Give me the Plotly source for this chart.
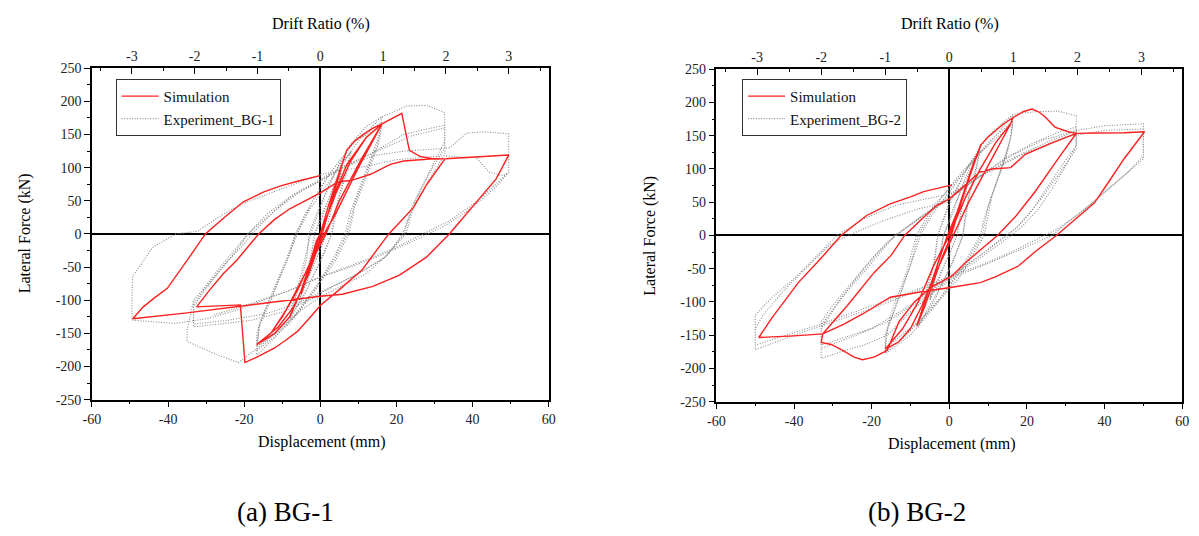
import plotly.graph_objects as go

# ---------------- data (mm, kN) ----------------
sim1_x = [0, 2, 4, 5.5, 4, 1.5, 0.5, -1.5, -3.5, -5, -3.5, -1, 0,
          2, 4.5, 7, 9, 11.5, 14, 16.2, 10, 4, 1, -2, -6, -10, -13, -16.7, -12, -8, -5, -3, 0, 4, 8, 12, 16.2,
          11, 5, 1.5, -4, -9, -13, -16.7, -11, -7, -3, 0, 3, 7, 12, 16.2,
          19, 21.4, 23.4, 26.2, 29.2, 32.7,
          28, 24.5, 18, 11, 5, 0, -3, -6, -9, -12, -16, -19.8, -21, -26, -32.5,
          -29, -25.5, -22, -16.2, -12, -8, -4, 0, 4.5, 8.9, 13.2, 18.4, 21.9, 28.8, 33, 40, 49.5,
          46.2, 41, 37, 33.9, 27.9, 20.8, 13.8, 5.8, 0, -10, -20, -35, -49.3,
          -46.5, -43.5, -40.2, -35, -30.2, -25, -20.2, -15, -10.2, -5, 0]
sim1_y = [0, 40, 75, 100, 70, 20, 0, -30, -65, -90, -60, -10, 0,
          40, 85, 127, 140, 151, 160, 166, 100, 30, 0, -35, -85, -125, -150, -167, -150, -125, -85, -50, 0, 60, 110, 145, 166,
          115, 50, 0, -60, -115, -150, -167, -140, -110, -60, -10, 50, 105, 145, 166,
          175, 182, 126, 117, 114, 113,
          75, 40, 0, -54, -84, -108, -128, -147, -160, -172, -184, -194, -107, -108, -110,
          -84, -60, -40, 0, 22, 38, 50, 62, 78, 82, 90, 105, 110, 113, 113.5, 116, 119,
          83, 48.5, 22, 0, -35, -62, -79, -91, -94, -101, -109, -119, -128,
          -110, -96, -82, -40, 0, 26, 48.5, 63, 73, 81, 88]

exp1_x = [0, 1.5, 3, 4.5, 5.5, 4.5, 3, 2, 1.5, 0, -2, -4, -5.5, -4.5, -3, -2, -1.5, 0, 2, 4, 5.5, 4, 2.5, 1.5, -0.5, -3, -5.5, -4, -2.5, -1.5,
          0.5, 3, 5.5, 8, 7, 5, 3.5, 3, 1, -2, -5, -8, -7, -5, -3.5, -3, -1, 2, 5, 8, 7, 5, 3.5, 3, 0, -4, -8, -7, -5, -3, -2.5,
          0, 4, 8, 12, 16.2, 15.5, 13, 10, 8, 6.5, 4, 0, -5, -10, -14, -16.7, -16.7, -15, -12, -9, -6.5, -4, 0, 5, 10, 16.2,
          15, 12, 9, 7, 4, -1, -7, -12, -16.7, -16, -13, -10, -7, -6, -2, 3, 9, 16.2, 15, 12, 9, 7.5, 4, -2, -8, -16.7, -16, -12, -8, -6.5,
          -3, 0, 5, 10, 16, 22.7, 28, 32.7, 32.7, 32.7, 30, 27, 24, 21.5, 18, 12, 5, 0, -5, -10, -16, -21.5, -28, -35, -35, -33.3,
          -31, -27, -22, -19, -14, -8, 0, 6, 13, 21.9, 27, 32.7, 32.7, 30, 27, 24, 22, 17, 10, 3, -3, -10, -18, -25, -33.3, -33.3,
          -31, -27, -22, -19, -14, -7, 0, 7, 15, 24, 32.7, 32.7, 29, 25, 22.5, 17, 10, 2, -6, -14, -24, -33.3, -33.3, -30, -25, -20, -18,
          -12, -5, 0, 6, 14, 22, 30, 34, 38.4, 42.7, 47.9, 49.5, 49.5, 46, 42, 37, 32, 30, 24, 16, 8, 0, -8, -15, -22, -30, -38, -49.5,
          -49.5, -49.3, -44, -38, -32.3, -26, -20.2, -10.2, 0.3, 12.8, 20, 26, 32.7, 37, 41, 44.4, 47.9, 49.5,
          45, 41, 34, 26.8, 20, 13.8, 5.8, 0, -8, -16, -22, -28]
exp1_y = [0, 25, 50, 75, 92, 70, 40, 15, 0, -25, -50, -80, -98, -75, -45, -20, 0, 25, 50, 80, 95, 62, 30, 0, -30, -65, -100, -70, -35, 0,
          25, 65, 100, 125, 100, 60, 25, 0, -30, -65, -100, -128, -105, -70, -35, 0, 30, 70, 105, 123, 95, 55, 15, 0, -40, -90, -125, -100, -60, -15, 0,
          40, 95, 135, 162, 177, 150, 110, 65, 35, 0, -30, -70, -110, -145, -168, -183, -150, -120, -80, -40, 0, 30, 70, 110, 145, 168,
          135, 90, 45, 0, -35, -80, -125, -155, -176, -140, -100, -55, -15, 0, 50, 95, 140, 162, 130, 85, 40, 0, -40, -90, -135, -170, -135, -85, -30, 0,
          35, 60, 100, 140, 176, 193, 194, 183, 150, 120, 95, 65, 35, 0, -30, -60, -80, -95, -115, -140, -170, -194, -180, -162, -145, -100,
          -85, -55, -20, 0, 25, 55, 80, 100, 120, 150, 157, 164, 140, 110, 75, 40, 0, -35, -60, -80, -100, -118, -130, -135, -140, -110,
          -90, -60, -25, 0, 30, 60, 83, 105, 125, 148, 160, 130, 95, 50, 0, -35, -60, -82, -105, -120, -130, -136, -105, -80, -45, -15, 0,
          35, 65, 80, 100, 118, 125, 128, 130, 152, 154, 152, 151, 93, 70, 50, 28, 10, 5, -12, -32, -50, -65, -85, -100, -115, -128, -135, -130,
          -100, -64, -20, 0, 4, 28, 46, 68, 90, 103, 112, 115, 118, 116, 115, 93, 88, 93,
          70, 48.5, 20, 0, -20, -35, -52, -65, -85, -100, -112, -122]

sim2_x = [0, 2, 4, 6, 8.1, 5, 2, 0.5, -2, -4.5, -6.5, -8.4, -6, -3, -0.5,
          2, 5, 8.1, 10, 12, 14, 16.4, 15.8, 10, 5, 1, -3, -7, -10, -13, -16.5, -12, -8, -4, 0, 4, 8, 12, 15.8, 16.4,
          19, 21.3, 23, 24.7, 27.2, 30.6, 32.7,
          28, 22, 17, 12.4, 8, 4.1, 0.7, -4.7, -9, -13, -16, -19.4, -22.4, -24.5, -27.5, -30.4, -33, -32.6,
          -26.2, -19.4, -15, -11.5, -7, -3.3, 0, 3, 7.7, 11, 15.8, 19.6, 26, 32.7, 38, 45, 50.3,
          45, 41, 37.4, 32, 27.6, 22, 17.8, 12, 8, 0.7, -7.5, -15.2, -18, -22, -27, -32.6, -40, -49.1,
          -45.7, -42, -38.9, -33, -27.9, -21.3, -15.4, -10, -6.6, 0.7]
sim2_y = [0, 35, 70, 105, 136, 85, 30, 0, -35, -75, -110, -136, -95, -45, 0,
          35, 85, 136, 148, 158, 168, 177, 168, 105, 50, 0, -50, -105, -140, -160, -171, -140, -100, -45, 0, 55, 100, 140, 168, 177,
          186, 190, 186, 178, 163, 156, 153.5,
          115, 65, 28, 0, -22, -41, -61, -78, -100, -130, -173, -183, -187, -183, -173, -164, -161, -148,
          -105, -56, -30, 0, 25, 45, 55, 70, 95, 100, 102, 122, 138, 153.5, 154, 154.5, 156,
          115, 80, 49, 22, 0, -25, -46, -62, -71, -78, -85, -93, -103, -117, -133, -148, -151, -153.5,
          -124, -95, -71, -34, 0, 30, 47, 58, 66, 76]

exp2_x = [0, 2, 4, 5.5, 4.5, 3, 2, 0, -2.5, -5, -4, -2.5, -1.5, 1, 3.5, 5.5, 4, 2.5, 2, -1, -3, -5, -3.5, -2, -1.5,
          1, 4, 6.5, 8, 7, 5, 4, 3.5, 1, -3, -6, -8, -7, -5, -3.5, -3, 0, 4, 8, 7, 5, 3.5, 0, -4, -8, -6.5, -4, -3,
          0, 5, 10, 16.4, 16, 14, 11, 9, 8, 4, 0, -5, -10, -16.5, -16.5, -14, -11, -8.5, -7.5, -4, 0, 5, 10, 16.4,
          15.5, 13, 10, 8.5, 4, -1, -7, -12, -16.5, -16, -13, -10, -8, -4, 1, 7, 16.4, 15, 11, 9, 3, -5, -16.5, -15.5, -11, -8.5,
          -4, 0, 6, 12, 16.4, 22, 28, 32.7, 32.7, 32.7, 30.5, 27, 23, 19, 16, 10, 3, -4, -10, -16, -22, -28, -33, -33, -33,
          -30, -25, -20, -16, -13.5, -7, 0, 7, 14, 22, 28, 32.7, 32.7, 29, 25, 21, 17, 14.5, 8, 0, -8, -16, -24, -33, -33,
          -29, -24, -19, -14, -8, 0, 8, 16, 24, 32.7, 32.7, 28, 23, 18, 15, 8, 0, -10, -20, -33, -33, -28, -22, -17, -14,
          -7, 0, 8, 16, 25, 33, 40, 50, 50, 50, 46, 42, 37, 31, 26.5, 18, 10, 0, -10, -20, -30, -40, -50, -50, -50,
          -46, -40, -34, -29, -22, -14, -6, 0, 10, 20, 30, 40, 50, 50, 50, 45, 40, 34, 28, 24.5, 16, 8, 0, -10, -22, -34, -50,
          -50, -48, -43, -37, -31, -26, -18, -8, 0]
exp2_y = [0, 35, 70, 95, 70, 35, 0, -30, -60, -95, -65, -30, 0, 40, 75, 98, 60, 20, 0, -40, -70, -98, -60, -20, 0,
          35, 85, 115, 135, 105, 60, 25, 0, -40, -85, -115, -138, -110, -70, -30, 0, 45, 95, 132, 100, 55, 0, -50, -100, -135, -95, -40, 0,
          50, 105, 150, 182, 150, 110, 60, 25, 0, -40, -75, -115, -150, -178, -150, -110, -60, -20, 0, 35, 65, 105, 140, 172,
          140, 95, 45, 0, -45, -85, -125, -155, -175, -140, -95, -45, 0, 40, 80, 120, 168, 125, 60, 0, -60, -115, -170, -125, -55, 0,
          45, 70, 110, 150, 182, 186, 187, 180, 160, 135, 110, 75, 40, 15, 0, -25, -55, -85, -115, -150, -165, -175, -185, -160, -130,
          -105, -70, -35, -10, 0, 30, 55, 85, 115, 140, 155, 163, 135, 105, 70, 35, 10, 0, -30, -65, -100, -130, -150, -170, -140,
          -105, -65, -30, 0, 25, 55, 90, 120, 143, 158, 130, 90, 50, 15, 0, -30, -62, -105, -140, -165, -135, -95, -55, -20, 0,
          28, 60, 90, 115, 140, 158, 165, 168, 145, 120, 95, 75, 50, 22, 0, -22, -42, -65, -88, -110, -130, -150, -172, -150, -120,
          -95, -65, -30, 0, 25, 45, 55, 62, 95, 125, 148, 158, 160, 140, 115, 90, 65, 35, 10, 0, -25, -45, -62, -85, -110, -135, -165,
          -140, -120, -85, -50, -15, 0, 20, 40, 50]

disp_ticks = [-60, -40, -20, 0, 20, 40, 60]
disp_tick_text = ["-60", "-40", "-20", "0", "20", "40", "60"]
force_ticks = [-250, -200, -150, -100, -50, 0, 50, 100, 150, 200, 250]
force_tick_text = ["-250", "-200", "-150", "-100", "-50", "0", "50", "100", "150", "200", "250"]
drift_ticks = [-3, -2, -1, 0, 1, 2, 3]
drift_tick_text = ["-3", "-2", "-1", "0", "1", "2", "3"]
mm_per_percent = 16.5

# ---------------- figure ----------------
FONT = "Liberation Serif"
RED = "#ff2020"
GREY = "#8a8a8a"

fig = go.Figure()

panels = [
    dict(sx=sim1_x, sy=sim1_y, ex=exp1_x, ey=exp1_y, xa="x", ya="y", xt="x3",
         legend="legend", name="Experiment_BG-1"),
    dict(sx=sim2_x, sy=sim2_y, ex=exp2_x, ey=exp2_y, xa="x2", ya="y2", xt="x4",
         legend="legend2", name="Experiment_BG-2"),
]
for p in panels:
    fig.add_trace(go.Scatter(x=p["ex"], y=p["ey"], mode="lines", name=p["name"],
                             line=dict(color=GREY, width=1.1, dash="1px,1.6px"),
                             xaxis=p["xa"], yaxis=p["ya"], legend=p["legend"], legendrank=2))
    fig.add_trace(go.Scatter(x=p["sx"], y=p["sy"], mode="lines", name="Simulation",
                             line=dict(color=RED, width=1.4),
                             xaxis=p["xa"], yaxis=p["ya"], legend=p["legend"], legendrank=1))
    # invisible trace to activate the top drift-ratio axis
    fig.add_trace(go.Scatter(x=[drift_ticks[0], drift_ticks[-1]], y=[0, 0], mode="lines",
                             line=dict(width=0), opacity=0, showlegend=False, hoverinfo="skip",
                             xaxis=p["xt"], yaxis=p["ya"]))

tickfont = dict(family=FONT, size=14, color="#222")
common_x = dict(range=[-60, 60], tickmode="array", tickvals=disp_ticks, ticktext=disp_tick_text,
                ticks="outside", ticklen=6, tickwidth=1.2, tickcolor="black",
                minor=dict(tickmode="linear", tick0=0, dtick=10, ticks="outside", ticklen=3, tickcolor="black"),
                showline=True, linecolor="black", linewidth=1.5, mirror=True,
                showgrid=False, zeroline=False, tickfont=tickfont)
common_y = dict(range=[-250, 250], tickmode="array", tickvals=force_ticks, ticktext=force_tick_text,
                ticks="outside", ticklen=6, tickwidth=1.2, tickcolor="black",
                minor=dict(tickmode="linear", tick0=0, dtick=25, ticks="outside", ticklen=3, tickcolor="black"),
                showline=True, linecolor="black", linewidth=1.5, mirror=True,
                showgrid=False, zeroline=True, zerolinecolor="black", zerolinewidth=1.5, tickfont=tickfont)
common_top = dict(range=[-60 / mm_per_percent, 60 / mm_per_percent], tickmode="array",
                  tickvals=drift_ticks, ticktext=drift_tick_text, side="top",
                  ticks="inside", ticklen=6, tickwidth=1.2, tickcolor="black",
                  minor=dict(tickmode="linear", tick0=0, dtick=0.5, ticks="inside", ticklen=3, tickcolor="black"),
                  showline=True, linecolor="black", linewidth=1.5,
                  showgrid=False, zeroline=True, zerolinecolor="black", zerolinewidth=1.5, tickfont=tickfont)

legend_style = dict(xanchor="left", yanchor="top", bgcolor="white",
                    bordercolor="#333", borderwidth=1, itemwidth=37,
                    font=dict(family=FONT, size=15, color="#111"), tracegroupgap=0)

fig.update_layout(
    width=1199, height=536, margin=dict(l=0, r=0, t=0, b=0),
    paper_bgcolor="white", plot_bgcolor="white",
    font=dict(family=FONT, color="black"),
    showlegend=True,
    xaxis=dict(domain=[0.0701, 0.4562], anchor="y", **common_x),
    yaxis=dict(domain=[0.2463, 0.8825], anchor="x", **common_y),
    xaxis3=dict(overlaying="x", anchor="y", **common_top),
    xaxis2=dict(domain=[0.5980, 0.9917], anchor="y2", **common_x),
    yaxis2=dict(domain=[0.2425, 0.8806], anchor="x2", **common_y),
    xaxis4=dict(overlaying="x2", anchor="y2", **common_top),
    legend=dict(x=0.0901, y=0.862, **legend_style),
    legend2=dict(x=0.6197, y=0.862, **legend_style),
)

def ann(text, x, y, size, angle=0):
    fig.add_annotation(text=text, x=x / 1199, y=1 - y / 536, xref="paper", yref="paper",
                       showarrow=False, textangle=angle, xanchor="center", yanchor="middle",
                       font=dict(family=FONT, size=size, color="black"))

ann("Drift Ratio (%)", 316, 18, 16)
ann("Displacement (mm)", 317, 448, 16)
ann("Lateral Force (kN)", 17, 233, 16, -90)
ann("Drift Ratio (%)", 954, 18, 16)
ann("Displacement (mm)", 956, 450, 16)
ann("Lateral Force (kN)", 650, 235, 16, -90)
ann("(a) BG-1", 280, 520, 27)
ann("(b) BG-2", 920, 520, 27)

fig.write_html("out.html")
